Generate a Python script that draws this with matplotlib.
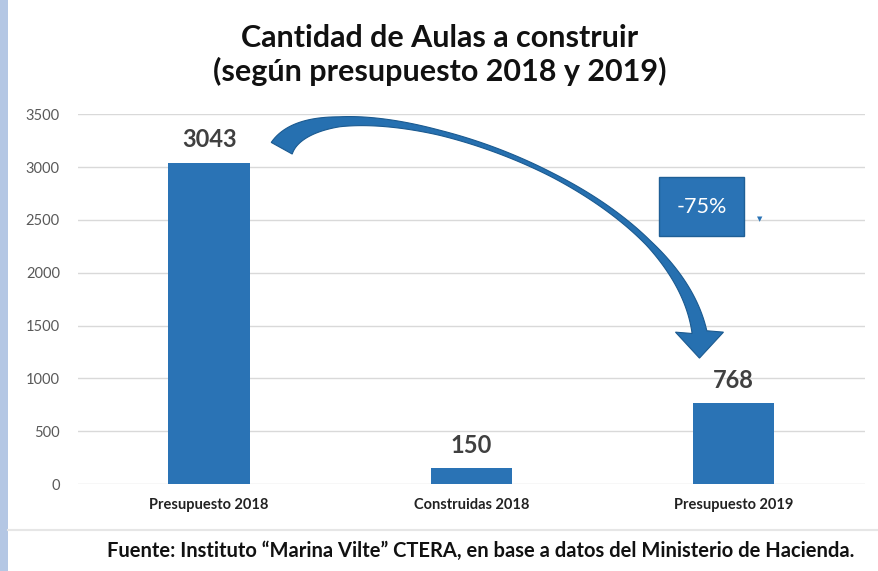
import matplotlib
matplotlib.use("Agg")
import numpy as np
import matplotlib.pyplot as plt
from matplotlib.patches import Polygon, Rectangle
from matplotlib.lines import Line2D

categorias = ["Presupuesto 2018", "Construidas 2018", "Presupuesto 2019"]
aulas = [3043, 150, 768]
ticks_y = [0, 500, 1000, 1500, 2000, 2500, 3000, 3500]
variacion = "-75%"

azul = "#2a73b5"
plt.rcParams['font.family'] = ['Lato', 'DejaVu Sans']

fig = plt.figure(figsize=(8.79, 5.71), dpi=100)
ax = fig.add_axes([0.0887, 0.152, 0.895, 0.648])

x = list(range(len(categorias)))
ax.bar(x, aulas, width=0.31, color=azul, zorder=3)
for xi, v in zip(x, aulas):
    ax.annotate(str(v), (xi, v), xytext=(0, 8), textcoords="offset points",
                ha="center", va="bottom", fontsize=17, fontweight="bold",
                color="#404040")

ax.set_xlim(-0.5, 2.5)
ax.set_ylim(0, 3500)
ax.set_yticks(ticks_y)
ax.set_xticks(x)
ax.set_xticklabels(categorias, fontsize=10.5, fontweight="bold", color="#222222")
ax.tick_params(axis="y", labelsize=10.5, colors="#595959", length=0, pad=13)
ax.tick_params(axis="x", length=0, pad=10)
ax.grid(axis="y", color="#d9d9d9", linewidth=1, zorder=0)
for s in ax.spines.values():
    s.set_visible(False)


# flecha curva (forma dibujada a mano en coordenadas de pantalla)
def flecha_curva(ax, pts, anchos, head_w=48, head_l=26):
    P = ax.transAxes.transform(np.array(pts))
    t = np.linspace(0, 1, 120)[:, None]
    B = ((1 - t) ** 3 * P[0] + 3 * (1 - t) ** 2 * t * P[1]
         + 3 * (1 - t) * t ** 2 * P[2] + t ** 3 * P[3])
    dB = (3 * (1 - t) ** 2 * (P[1] - P[0]) + 6 * (1 - t) * t * (P[2] - P[1])
          + 3 * t ** 2 * (P[3] - P[2]))
    d = dB / np.linalg.norm(dB, axis=1)[:, None]
    n = np.column_stack([-d[:, 1], d[:, 0]])
    w = np.interp(t[:, 0], np.linspace(0, 1, len(anchos)), anchos)[:, None] / 2
    izq = B + n * w
    der = B - n * w
    base = B[-1]
    dir_f = np.array([0.0, -1.0])
    nor_f = np.array([1.0, 0.0])
    cabeza = [base - nor_f * head_w / 2, base + dir_f * head_l, base + nor_f * head_w / 2]
    cabeza.sort(key=lambda p: -np.dot(p - base, n[-1]))
    forma = np.vstack([izq, cabeza, der[::-1]])
    forma = ax.transAxes.inverted().transform(forma)
    ax.add_patch(Polygon(forma, closed=True, transform=ax.transAxes, clip_on=False,
                         facecolor="#2670b0", edgecolor="#1b5a90", linewidth=0.8,
                         zorder=5))


flecha_curva(ax, [(0.259, 0.908), (0.314, 1.119), (0.752, 0.849), (0.790, 0.411)],
             [24, 10, 5, 4, 6, 15])

# recuadro -75%
ax.add_patch(Rectangle((0.738, 0.670), 0.109, 0.159, transform=ax.transAxes,
                       facecolor=azul, edgecolor="#1f5f96", linewidth=1, zorder=6))
ax.text(0.793, 0.750, variacion, transform=ax.transAxes, ha="center", va="center",
        fontsize=15.5, color="white", zorder=7)
ax.text(0.867, 0.719, "\u25bc", transform=ax.transAxes, ha="center", va="center",
        fontsize=5, color=azul)

fig.text(0.5, 0.903, "Cantidad de Aulas a construir\n(según presupuesto 2018 y 2019)",
         ha="center", va="center", fontsize=22, fontweight="bold", color="#111111",
         linespacing=1.2)

# franja izquierda y separador
fig.patches.append(Rectangle((0, 0), 0.009, 1, transform=fig.transFigure,
                             facecolor="#b4c7e4", edgecolor="none"))
fig.lines.append(Line2D([0.009, 1], [0.072, 0.072], transform=fig.transFigure,
                        color="#e6e6e6", linewidth=1.5))
fig.text(0.547, 0.035, "Fuente: Instituto \u201cMarina Vilte\u201d CTERA, en base a datos del Ministerio de Hacienda.",
         ha="center", va="center", fontsize=14.5, fontweight="bold", color="#111111")

fig.savefig("out.png", dpi=100)
